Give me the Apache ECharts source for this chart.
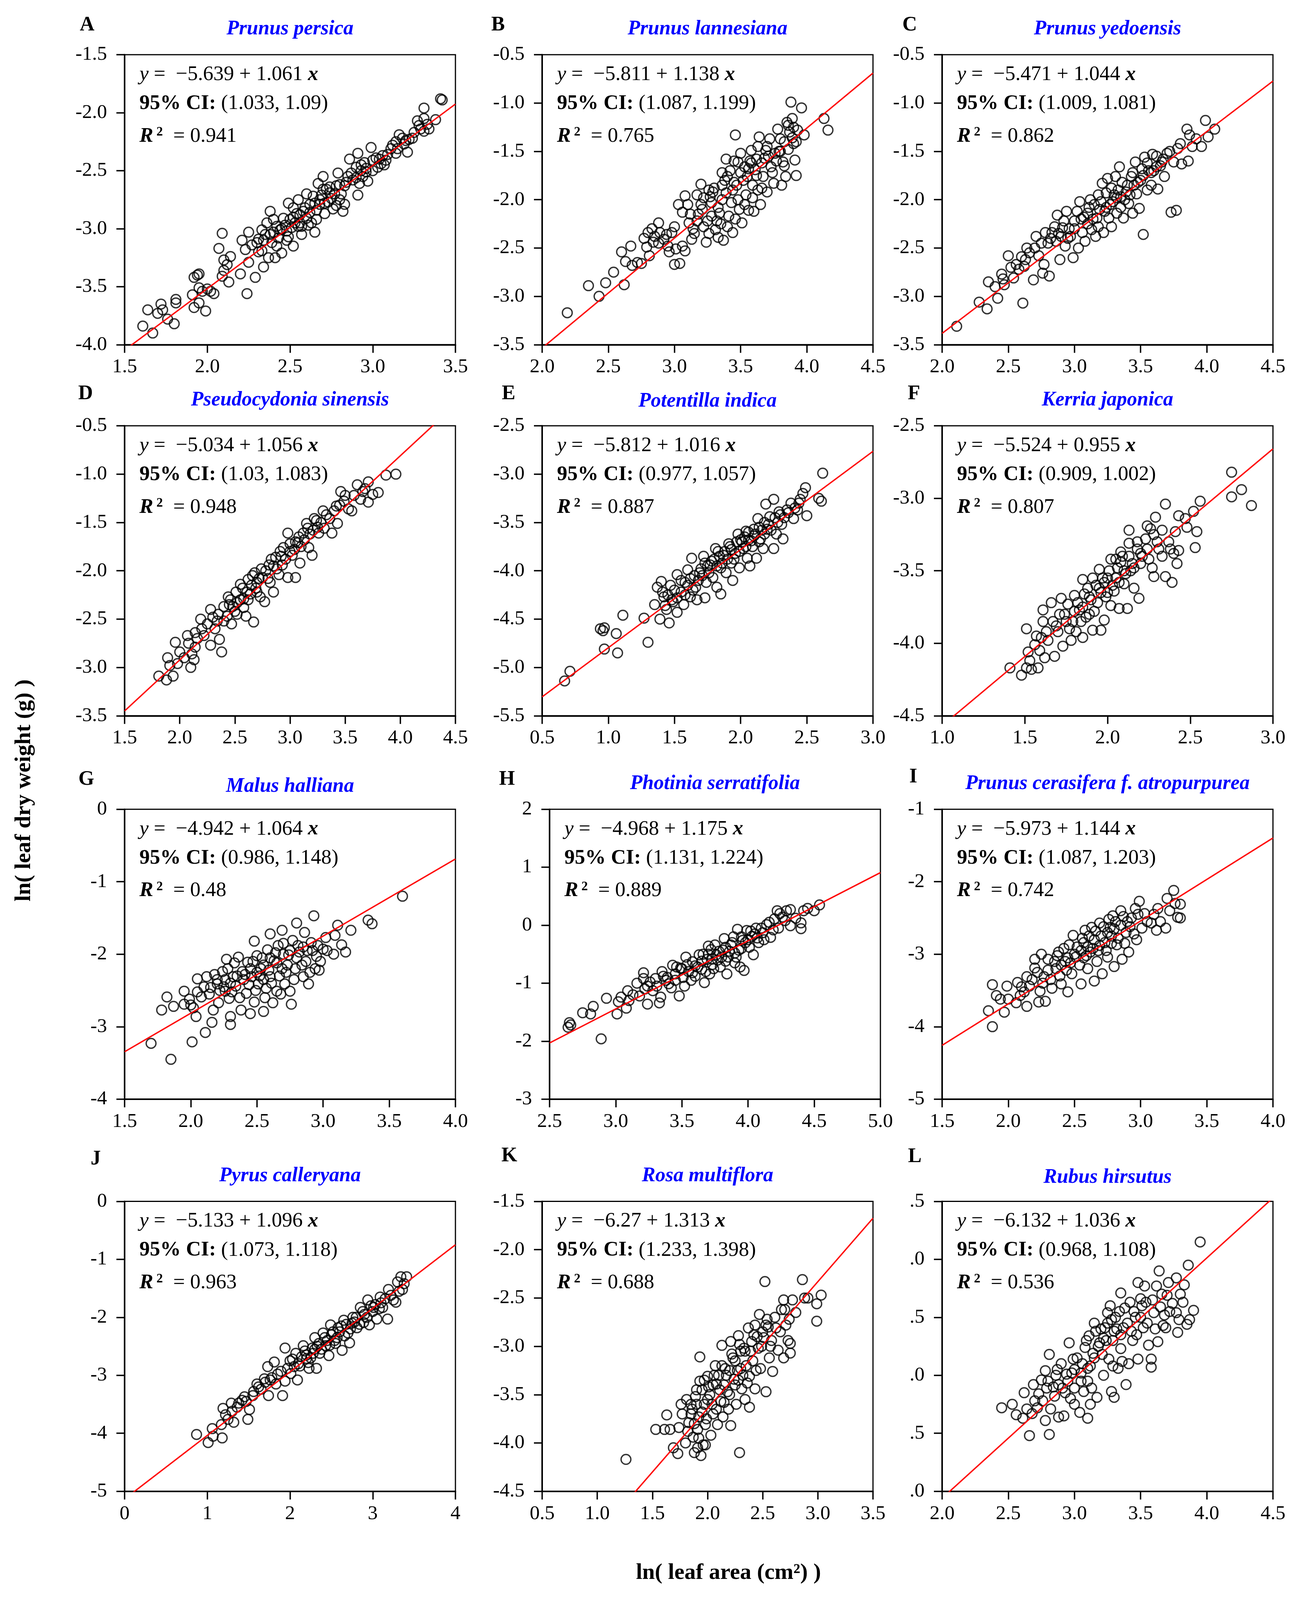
<!DOCTYPE html>
<html>
<head>
<meta charset="utf-8">
<script src="https://cdn.jsdelivr.net/npm/echarts@6/dist/echarts.min.js"></script>
<style>
html, body { margin: 0; padding: 0; background: #fff; overflow: hidden; }
#chart { width: 3318px; height: 4415px; }
</style>
</head>
<body>
<div id="chart"></div>
<script>
// panels A..L, row by row
var panelLetters = ['A', 'B', 'C', 'D', 'E', 'F', 'G', 'H', 'I', 'J', 'K', 'L'];
var speciesNames = ['Prunus persica', 'Prunus lannesiana', 'Prunus yedoensis', 'Pseudocydonia sinensis',
  'Potentilla indica', 'Kerria japonica', 'Malus halliana', 'Photinia serratifolia',
  'Prunus cerasifera f. atropurpurea', 'Pyrus calleryana', 'Rosa multiflora', 'Rubus hirsutus'];

// fitted lines and stats
var intercepts = [-5.639, -5.811, -5.471, -5.034, -5.812, -5.524, -4.942, -4.968, -5.973, -5.133, -6.27, -6.132];
var slopes = [1.061, 1.138, 1.044, 1.056, 1.016, 0.955, 1.064, 1.175, 1.144, 1.096, 1.313, 1.036];
var ciLow = [1.033, 1.087, 1.009, 1.03, 0.977, 0.909, 0.986, 1.131, 1.087, 1.073, 1.233, 0.968];
var ciHigh = [1.09, 1.199, 1.081, 1.083, 1.057, 1.002, 1.148, 1.224, 1.203, 1.118, 1.398, 1.108];
var r2Values = [0.941, 0.765, 0.862, 0.948, 0.887, 0.807, 0.48, 0.889, 0.742, 0.963, 0.688, 0.536];

// axis ticks
var xMin = [1.5, 2.0, 2.0, 1.5, 0.5, 1.0, 1.5, 2.5, 1.5, 0, 0.5, 2.0];
var xMax = [3.5, 4.5, 4.5, 4.5, 3.0, 3.0, 4.0, 5.0, 4.0, 4, 3.5, 4.5];
var xStep = [0.5, 0.5, 0.5, 0.5, 0.5, 0.5, 0.5, 0.5, 0.5, 1, 0.5, 0.5];
var yMin = [-4.0, -3.5, -3.5, -3.5, -5.5, -4.5, -4, -3, -5, -5, -4.5, -4.0];
var yMax = [-1.5, -0.5, -0.5, -0.5, -2.5, -2.5, 0, 2, -1, 0, -1.5, -1.5];
var yStep = [0.5, 0.5, 0.5, 0.5, 0.5, 0.5, 1, 1, 1, 1, 0.5, 0.5];
var xDecimals = [1, 1, 1, 1, 1, 1, 1, 1, 1, 0, 1, 1];
var yDecimals = [1, 1, 1, 1, 1, 1, 0, 0, 0, 0, 1, 1];
var yTruncated = [false, false, false, false, false, false, false, false, false, false, false, true];

// ln(leaf area), ln(leaf dry weight)
var ptsA = [[1.61,-3.84],[1.67,-3.90],[1.64,-3.70],[1.72,-3.65],[1.70,-3.73],[1.73,-3.70],[1.76,-3.78],[1.80,-3.82],[1.81,-3.61],[1.81,-3.64],
  [1.94,-3.40],[1.95,-3.39],[1.92,-3.42],[1.91,-3.57],[1.92,-3.68],[1.95,-3.51],[1.97,-3.54],[1.99,-3.71],[1.95,-3.64],[2.02,-3.54],[2.04,-3.56],[2.00,-3.52],
  [2.09,-3.04],[2.07,-3.17],[2.10,-3.27],[2.14,-3.24],[2.09,-3.41],[2.13,-3.46],[2.12,-3.31],[2.10,-3.36],[2.20,-3.39],[2.24,-3.56],[2.21,-3.10],[2.25,-3.03],
  [2.23,-3.18],[2.29,-3.42],[2.25,-3.29],[2.31,-3.09],[2.33,-3.19],[2.34,-3.33],[2.37,-3.25],[2.33,-3.01],[2.36,-2.95],[2.38,-2.85],[2.40,-3.03],[2.42,-3.15],
  [2.41,-3.25],[2.45,-3.21],[2.46,-2.91],[2.49,-2.78],[2.44,-3.01],[2.49,-3.07],[2.52,-3.15],[2.51,-2.99],[2.54,-2.87],[2.55,-2.75],[2.56,-2.95],[2.57,-3.05],
  [2.60,-2.91],[2.62,-2.79],[2.65,-3.03],[2.63,-2.95],[2.64,-2.72],[2.67,-2.61],[2.70,-2.55],[2.68,-2.79],[2.71,-2.87],[2.73,-2.77],[2.74,-2.69],[2.76,-2.83],
  [2.79,-2.52],[2.80,-2.75],[2.82,-2.85],[2.83,-2.79],[2.83,-2.63],[2.85,-2.55],[2.86,-2.40],[2.91,-2.35],[2.99,-2.30],[2.90,-2.47],[2.92,-2.61],[2.91,-2.71],
  [2.94,-2.55],[2.95,-2.43],[2.97,-2.59],[3.00,-2.41],[3.03,-2.47],[3.06,-2.37],[3.09,-2.36],[3.07,-2.45],[3.14,-2.35],[3.16,-2.19],[3.14,-2.25],[3.19,-2.27],
  [3.21,-2.34],[3.22,-2.23],[3.25,-2.17],[3.27,-2.07],[3.28,-2.11],[3.31,-1.96],[3.31,-2.05],[3.34,-2.14],[3.31,-2.16],[3.38,-2.06],[3.41,-1.88],[3.42,-1.89],
  [2.35,-3.05],[2.43,-3.08],[2.47,-2.97],[2.52,-2.90],[2.58,-2.85],[2.61,-2.97],[2.66,-2.84],[2.69,-2.71],[2.72,-2.66],[2.75,-2.74],[2.78,-2.63],[2.81,-2.70],
  [2.88,-2.58],[2.93,-2.50],[2.96,-2.51],[3.02,-2.39],[3.05,-2.44],[3.11,-2.31],[3.18,-2.22],[2.27,-3.14],[2.31,-3.20],[2.39,-3.12],[2.48,-3.02],[2.55,-2.98],
  [2.30,-3.12],[2.34,-3.10],[2.38,-3.05],[2.42,-2.98],[2.45,-3.00],[2.50,-2.92],[2.53,-2.95],[2.56,-2.88],[2.59,-2.82],[2.62,-2.86],[2.65,-2.78],[2.68,-2.75],
  [2.71,-2.78],[2.74,-2.64],[2.77,-2.70],[2.80,-2.62],[2.84,-2.60],[2.87,-2.52],[2.90,-2.56],[2.93,-2.45],[2.96,-2.48],[3.00,-2.50],[3.04,-2.40],[3.08,-2.41],
  [3.12,-2.28],[3.15,-2.31],[3.20,-2.24],[3.24,-2.22],[3.29,-2.14],[3.33,-2.10],[2.60,-2.70],[2.70,-2.66],[2.78,-2.80],[2.66,-2.92],[2.57,-2.98],[2.48,-3.10],
  [2.40,-2.92],[2.52,-2.82]];

var ptsB = [[2.19,-3.17],[2.35,-2.89],[2.43,-3.00],[2.48,-2.86],[2.54,-2.75],[2.62,-2.88],[2.60,-2.54],[2.67,-2.48],[2.63,-2.64],[2.68,-2.68],[2.72,-2.65],
  [2.75,-2.66],[2.79,-2.49],[2.81,-2.58],[2.80,-2.34],[2.83,-2.30],[2.85,-2.38],[2.88,-2.24],[2.89,-2.34],[2.84,-2.44],[2.92,-2.41],[2.95,-2.48],[2.98,-2.34],
  [2.96,-2.54],[3.00,-2.67],[3.04,-2.66],[3.01,-2.51],[3.06,-2.48],[3.08,-2.53],[3.03,-2.05],[3.08,-1.96],[3.06,-2.13],[3.11,-2.24],[3.13,-2.41],[3.15,-2.35],
  [3.17,-1.95],[3.20,-1.84],[3.21,-2.10],[3.24,-2.44],[3.25,-2.22],[3.28,-2.03],[3.30,-1.88],[3.31,-2.31],[3.34,-2.14],[3.36,-2.00],[3.37,-2.42],[3.39,-1.58],
  [3.40,-1.76],[3.41,-2.17],[3.43,-2.03],[3.44,-2.34],[3.46,-1.33],[3.47,-1.85],[3.48,-1.61],[3.49,-2.10],[3.50,-1.52],[3.51,-2.24],[3.54,-1.95],[3.55,-1.76],
  [3.56,-2.11],[3.58,-1.49],[3.59,-1.85],[3.60,-2.12],[3.61,-1.69],[3.63,-1.45],[3.64,-1.35],[3.65,-2.05],[3.67,-1.76],[3.68,-1.57],[3.70,-1.92],[3.72,-1.37],
  [3.73,-1.66],[3.75,-1.83],[3.78,-1.27],[3.79,-1.50],[3.81,-1.85],[3.82,-1.61],[3.84,-1.76],[3.86,-1.23],[3.88,-0.99],[3.89,-1.16],[3.90,-1.42],[3.91,-1.59],
  [3.92,-1.75],[3.93,-1.28],[3.96,-1.05],[3.98,-1.33],[4.13,-1.16],[4.16,-1.28],[3.28,-2.17],[3.38,-1.80],[3.53,-1.66],[3.80,-1.37],[3.69,-1.49],[3.17,-2.22],
  [3.33,-2.39],[3.63,-1.90],[3.20,-2.05],[3.27,-1.97],[3.33,-2.08],[3.39,-1.93],[3.45,-1.82],[3.52,-1.80],[3.57,-1.60],[3.62,-1.75],[3.66,-1.62],[3.71,-1.55],
  [3.76,-1.52],[3.83,-1.40],[3.87,-1.30],[3.35,-2.25],[3.42,-1.70],[3.48,-2.00],[3.12,-2.15],[3.22,-2.28],
  [3.10,-2.05],[3.14,-2.30],[3.18,-2.15],[3.22,-1.98],[3.26,-2.35],[3.29,-1.92],[3.32,-2.22],[3.36,-1.85],[3.40,-2.28],[3.44,-1.90],[3.46,-2.20],[3.50,-1.72],
  [3.53,-2.05],[3.56,-1.68],[3.59,-1.98],[3.62,-1.58],[3.66,-1.88],[3.70,-1.45],[3.74,-1.72],[3.77,-1.60],[3.80,-1.50],[3.83,-1.65],[3.86,-1.48],[3.89,-1.36],
  [3.92,-1.40],[3.85,-1.20],[3.90,-1.25],[3.58,-1.62],[3.45,-1.60],[3.36,-1.72],[3.26,-1.90],[3.00,-2.28],[2.94,-2.36],[2.88,-2.45],[2.77,-2.40]];

var ptsC = [[2.11,-3.31],[2.28,-3.06],[2.34,-3.13],[2.42,-3.02],[2.35,-2.85],[2.45,-2.77],[2.47,-2.88],[2.46,-2.82],[2.50,-2.58],[2.54,-2.81],[2.56,-2.67],
  [2.60,-2.59],[2.61,-3.07],[2.62,-2.69],[2.64,-2.50],[2.66,-2.55],[2.69,-2.83],[2.71,-2.38],[2.73,-2.58],[2.76,-2.76],[2.77,-2.67],[2.78,-2.34],[2.81,-2.79],
  [2.80,-2.45],[2.83,-2.34],[2.86,-2.43],[2.87,-2.16],[2.89,-2.62],[2.91,-2.29],[2.93,-2.48],[2.94,-2.12],[2.97,-2.38],[2.99,-2.60],[3.00,-2.22],[3.03,-2.50],
  [3.04,-2.02],[3.06,-2.34],[3.08,-2.43],[3.10,-2.14],[3.12,-2.00],[3.13,-2.31],[3.16,-2.38],[3.17,-2.19],[3.19,-2.10],[3.21,-1.83],[3.22,-2.34],[3.24,-1.93],
  [3.25,-1.78],[3.26,-2.19],[3.28,-2.28],[3.29,-2.02],[3.31,-1.76],[3.32,-2.14],[3.34,-1.66],[3.35,-1.97],[3.37,-2.19],[3.40,-1.85],[3.41,-2.04],[3.43,-1.76],
  [3.44,-2.14],[3.46,-1.61],[3.47,-1.94],[3.49,-2.09],[3.50,-1.80],[3.52,-2.36],[3.53,-1.56],[3.56,-1.70],[3.58,-1.85],[3.59,-1.53],[3.62,-1.66],[3.63,-1.89],
  [3.66,-1.61],[3.68,-1.76],[3.70,-1.52],[3.73,-2.13],[3.77,-2.11],[3.75,-1.61],[3.78,-1.47],[3.81,-1.63],[3.85,-1.27],[3.86,-1.60],[3.87,-1.33],[3.89,-1.45],
  [3.92,-1.37],[3.96,-1.45],[3.99,-1.18],[4.01,-1.35],[4.06,-1.27],[3.05,-2.20],[3.15,-2.05],[3.23,-2.12],[3.30,-1.95],[3.38,-2.00],[3.45,-1.85],[3.52,-1.75],
  [3.55,-1.90],[3.60,-1.70],[2.95,-2.40],[2.88,-2.35],[3.00,-2.30],[3.10,-2.25],[3.18,-1.95],[3.27,-2.05],[3.33,-1.90],[3.42,-1.95],[3.65,-1.65],
  [2.70,-2.50],[2.75,-2.45],[2.82,-2.40],[2.85,-2.28],[2.90,-2.38],[2.92,-2.22],[2.96,-2.30],[3.02,-2.12],[3.07,-2.18],[3.11,-2.08],[3.14,-2.20],[3.20,-2.02],
  [3.24,-2.08],[3.28,-1.88],[3.32,-1.98],[3.36,-1.82],[3.39,-1.92],[3.44,-1.72],[3.48,-1.82],[3.51,-1.68],[3.55,-1.62],[3.58,-1.72],[3.62,-1.55],[3.67,-1.58],
  [3.72,-1.50],[3.80,-1.42],[2.58,-2.72],[2.63,-2.62],[2.52,-2.70],[2.40,-2.90],[3.18,-2.28],[3.35,-2.08]];

var ptsD = [[1.81,-3.09],[1.88,-3.13],[1.94,-3.09],[1.89,-2.90],[1.91,-2.98],[1.98,-2.96],[1.96,-2.74],[2.00,-2.84],[2.04,-2.90],[2.07,-2.67],[2.10,-3.00],
  [2.11,-2.86],[2.14,-2.79],[2.14,-2.64],[2.13,-2.92],[2.19,-2.50],[2.22,-2.67],[2.28,-2.40],[2.28,-2.77],[2.32,-2.60],[2.34,-2.52],[2.36,-2.71],[2.38,-2.84],
  [2.40,-2.37],[2.43,-2.47],[2.44,-2.27],[2.47,-2.55],[2.48,-2.37],[2.51,-2.22],[2.52,-2.45],[2.55,-2.14],[2.58,-2.29],[2.60,-2.47],[2.62,-2.09],[2.64,-2.24],
  [2.67,-2.53],[2.68,-2.02],[2.70,-2.12],[2.73,-2.27],[2.75,-2.07],[2.77,-2.32],[2.81,-1.94],[2.82,-2.12],[2.85,-2.22],[2.87,-1.86],[2.90,-2.04],[2.93,-1.94],
  [2.94,-1.76],[2.98,-1.61],[2.98,-2.07],[3.02,-1.84],[3.05,-2.07],[3.07,-1.71],[3.09,-1.92],[3.12,-1.61],[3.15,-1.51],[3.17,-1.76],[3.20,-1.84],[3.22,-1.46],
  [3.26,-1.61],[3.30,-1.38],[3.31,-1.56],[3.36,-1.46],[3.38,-1.61],[3.42,-1.33],[3.43,-1.51],[3.46,-1.18],[3.49,-1.28],[3.53,-1.36],[3.56,-1.38],[3.61,-1.11],
  [3.64,-1.26],[3.68,-1.15],[3.71,-1.08],[3.71,-1.29],[3.75,-1.21],[3.80,-1.19],[3.87,-1.01],[3.96,-1.00],[2.45,-2.35],[2.55,-2.30],[2.65,-2.15],[2.72,-2.08],
  [2.78,-2.00],[2.85,-1.95],[2.92,-1.85],[3.00,-1.80],[3.05,-1.70],[3.10,-1.75],[3.18,-1.62],[3.25,-1.55],[2.58,-2.38],[2.50,-2.42],[2.62,-2.30],[2.70,-2.22],
  [2.20,-2.60],[2.25,-2.55],[2.30,-2.48],[2.35,-2.45],[2.40,-2.52],[2.46,-2.30],[2.52,-2.33],[2.57,-2.18],[2.61,-2.22],[2.66,-2.05],[2.69,-2.18],[2.74,-1.98],
  [2.80,-2.08],[2.83,-1.88],[2.88,-1.98],[2.91,-1.80],[2.96,-1.88],[3.00,-1.72],[3.04,-1.78],[3.08,-1.65],[3.13,-1.68],[3.16,-1.56],[3.21,-1.58],[3.24,-1.48],
  [3.28,-1.50],[3.33,-1.42],[3.40,-1.38],[3.45,-1.32],[3.50,-1.22],[3.58,-1.22],[3.66,-1.18],[2.08,-2.75],[2.16,-2.70]];

var ptsE = [[0.67,-5.14],[0.71,-5.04],[0.94,-4.60],[0.97,-4.59],[0.96,-4.62],[0.97,-4.81],[1.06,-4.65],[1.07,-4.85],[1.11,-4.46],[1.27,-4.49],[1.30,-4.74],
  [1.35,-4.35],[1.37,-4.17],[1.40,-4.11],[1.39,-4.50],[1.42,-4.27],[1.44,-4.40],[1.46,-4.54],[1.47,-4.15],[1.49,-4.32],[1.52,-4.04],[1.52,-4.43],[1.55,-4.22],
  [1.57,-4.35],[1.58,-4.12],[1.60,-3.99],[1.63,-3.87],[1.62,-4.27],[1.66,-4.17],[1.67,-4.30],[1.69,-4.02],[1.72,-3.85],[1.73,-4.28],[1.74,-4.12],[1.77,-3.94],
  [1.79,-4.07],[1.81,-3.77],[1.82,-4.17],[1.85,-4.24],[1.85,-3.97],[1.87,-3.84],[1.89,-4.02],[1.91,-3.72],[1.93,-3.92],[1.94,-4.10],[1.96,-3.82],[1.98,-3.62],
  [1.99,-3.97],[2.02,-3.77],[2.04,-3.59],[2.05,-3.87],[2.07,-3.95],[2.08,-3.69],[2.10,-3.57],[2.12,-3.87],[2.13,-3.46],[2.15,-3.67],[2.17,-3.77],[2.19,-3.31],
  [2.20,-3.57],[2.22,-3.44],[2.25,-3.26],[2.25,-3.77],[2.27,-3.62],[2.29,-3.39],[2.31,-3.52],[2.32,-3.67],[2.35,-3.37],[2.38,-3.30],[2.40,-3.46],[2.43,-3.37],
  [2.45,-3.26],[2.47,-3.20],[2.49,-3.14],[2.50,-3.43],[2.59,-3.25],[2.61,-3.28],[2.62,-2.99],[1.60,-4.15],[1.65,-4.05],[1.70,-3.98],[1.75,-3.95],[1.80,-3.88],
  [1.84,-3.85],[1.88,-3.80],[1.92,-3.75],[1.97,-3.70],[2.00,-3.68],[2.03,-3.65],[2.06,-3.60],[2.10,-3.64],[2.14,-3.55],[2.18,-3.50],[1.55,-4.10],[1.50,-4.20],
  [1.45,-4.25],
  [1.58,-4.25],[1.62,-4.08],[1.64,-4.20],[1.68,-4.10],[1.71,-4.05],[1.73,-3.92],[1.76,-4.02],[1.78,-3.90],[1.82,-3.95],[1.83,-3.80],[1.86,-3.92],[1.90,-3.88],
  [1.93,-3.78],[1.95,-3.88],[1.99,-3.80],[2.01,-3.70],[2.04,-3.75],[2.06,-3.68],[2.09,-3.75],[2.11,-3.62],[2.14,-3.70],[2.16,-3.58],[2.18,-3.62],[2.21,-3.52],
  [2.23,-3.58],[2.26,-3.45],[2.28,-3.50],[2.30,-3.42],[2.33,-3.45],[2.36,-3.40],[2.41,-3.35],[2.44,-3.30],[1.52,-4.28],[1.48,-4.30],[1.41,-4.22],[1.43,-4.36]];

var ptsF = [[1.41,-4.17],[1.48,-4.22],[1.51,-4.17],[1.52,-4.06],[1.51,-3.90],[1.53,-4.12],[1.56,-4.01],[1.58,-4.17],[1.60,-3.96],[1.61,-3.85],[1.62,-4.10],
  [1.61,-3.77],[1.64,-3.98],[1.66,-3.72],[1.68,-4.09],[1.69,-3.88],[1.72,-3.69],[1.73,-4.02],[1.74,-3.80],[1.76,-3.73],[1.78,-3.98],[1.79,-3.85],[1.80,-3.67],
  [1.81,-3.92],[1.83,-3.77],[1.85,-3.96],[1.85,-3.56],[1.87,-3.82],[1.89,-3.68],[1.91,-3.55],[1.91,-3.91],[1.92,-3.78],[1.95,-3.49],[1.96,-3.91],[1.96,-3.65],
  [1.98,-3.84],[2.00,-3.55],[2.02,-3.42],[2.02,-3.74],[2.04,-3.64],[2.06,-3.48],[2.07,-3.76],[2.08,-3.37],[2.10,-3.59],[2.12,-3.76],[2.13,-3.22],[2.13,-3.31],
  [2.14,-3.50],[2.16,-3.62],[2.18,-3.35],[2.19,-3.69],[2.20,-3.45],[2.24,-3.19],[2.24,-3.35],[2.26,-3.21],[2.27,-3.48],[2.28,-3.54],[2.29,-3.13],[2.30,-3.30],
  [2.33,-3.40],[2.35,-3.54],[2.35,-3.04],[2.38,-3.35],[2.39,-3.58],[2.41,-3.23],[2.42,-3.45],[2.43,-3.12],[2.43,-3.36],[2.47,-3.14],[2.48,-3.20],[2.52,-3.09],
  [2.53,-3.34],[2.54,-3.23],[2.56,-3.02],[2.75,-2.82],[2.75,-2.99],[2.81,-2.94],[2.87,-3.05],[1.75,-3.85],[1.80,-3.78],[1.85,-3.75],[1.90,-3.70],[1.95,-3.62],
  [2.00,-3.65],[2.05,-3.55],[2.10,-3.50],[2.15,-3.45],[2.20,-3.38],[1.70,-3.92],[1.88,-3.62],[1.98,-3.58],[2.08,-3.44],
  [1.63,-3.92],[1.67,-3.85],[1.71,-3.80],[1.77,-3.90],[1.82,-3.72],[1.84,-3.85],[1.86,-3.66],[1.89,-3.80],[1.93,-3.60],[1.94,-3.72],[1.97,-3.55],[1.99,-3.68],
  [2.01,-3.50],[2.03,-3.60],[2.05,-3.42],[2.07,-3.58],[2.09,-3.40],[2.11,-3.52],[2.13,-3.40],[2.16,-3.48],[2.18,-3.30],[2.21,-3.40],[2.23,-3.28],[2.25,-3.42],
  [2.28,-3.25],[2.31,-3.35],[2.33,-3.22],[2.37,-3.30],[2.40,-3.38],[1.57,-3.95],[1.59,-4.05],[1.54,-4.18]];

var ptsG = [[1.70,-3.23],[1.85,-3.45],[2.01,-3.21],[1.78,-2.77],[1.87,-2.72],[1.82,-2.59],[1.95,-2.51],[1.95,-2.69],[1.99,-2.62],[2.02,-2.74],[2.04,-2.86],
  [2.05,-2.34],[2.08,-2.59],[2.11,-3.08],[2.12,-2.31],[2.15,-2.46],[2.16,-2.94],[2.17,-2.77],[2.20,-2.41],[2.21,-2.67],[2.24,-2.24],[2.26,-2.51],[2.27,-2.07],
  [2.29,-2.61],[2.30,-2.97],[2.30,-2.86],[2.32,-2.31],[2.34,-2.44],[2.36,-2.04],[2.38,-2.77],[2.39,-2.24],[2.42,-2.54],[2.43,-2.11],[2.45,-2.82],[2.46,-2.31],
  [2.48,-2.66],[2.48,-1.82],[2.50,-2.02],[2.51,-2.41],[2.53,-2.20],[2.55,-2.79],[2.57,-2.47],[2.58,-1.94],[2.60,-1.72],[2.60,-2.31],[2.62,-2.67],[2.63,-2.09],
  [2.65,-2.51],[2.66,-1.88],[2.69,-1.67],[2.69,-2.20],[2.71,-2.41],[2.74,-2.01],[2.75,-2.51],[2.76,-2.69],[2.77,-1.81],[2.79,-2.20],[2.80,-1.57],[2.82,-1.97],
  [2.85,-2.31],[2.86,-1.70],[2.87,-2.10],[2.89,-2.41],[2.91,-1.84],[2.93,-1.47],[2.94,-2.20],[2.95,-2.03],[2.97,-2.22],[3.00,-1.93],[3.02,-1.77],[3.08,-2.00],
  [3.09,-1.74],[3.11,-1.60],[3.14,-1.87],[3.17,-1.97],[3.21,-1.67],[3.34,-1.53],[3.37,-1.58],[3.60,-1.20],[2.30,-2.40],[2.35,-2.30],[2.40,-2.35],[2.45,-2.20],
  [2.50,-2.25],[2.55,-2.15],[2.60,-2.05],[2.65,-2.12],[2.70,-2.00],[2.75,-1.95],[2.80,-2.05],[2.85,-1.90],[2.20,-2.35],[2.25,-2.45],[2.55,-2.35],[2.72,-2.25],
  [2.10,-2.45],[2.14,-2.55],[2.18,-2.28],[2.22,-2.50],[2.26,-2.35],[2.28,-2.20],[2.31,-2.52],[2.33,-2.12],[2.37,-2.60],[2.41,-2.28],[2.44,-2.42],[2.47,-2.10],
  [2.49,-2.50],[2.52,-2.30],[2.54,-2.05],[2.56,-2.60],[2.59,-2.22],[2.61,-2.40],[2.64,-1.98],[2.67,-2.30],[2.68,-2.55],[2.70,-1.85],[2.73,-2.15],[2.78,-2.35],
  [2.81,-1.88],[2.84,-2.15],[2.88,-1.95],[2.90,-2.25],[2.92,-1.95],[2.96,-1.88],[2.98,-2.10],[3.03,-1.95],[2.05,-2.52],[2.00,-2.70]];

var ptsH = [[2.64,-1.76],[2.65,-1.68],[2.66,-1.72],[2.75,-1.51],[2.81,-1.53],[2.83,-1.40],[2.89,-1.96],[2.93,-1.26],[3.01,-1.53],[3.02,-1.32],[3.04,-1.24],
  [3.08,-1.43],[3.09,-1.13],[3.13,-1.20],[3.18,-1.22],[3.21,-0.82],[3.21,-0.92],[3.24,-1.36],[3.24,-1.05],[3.28,-1.13],[3.30,-0.92],[3.33,-1.34],[3.34,-1.24],
  [3.36,-0.88],[3.40,-1.01],[3.43,-0.69],[3.45,-0.84],[3.48,-1.22],[3.49,-0.74],[3.52,-1.05],[3.53,-0.55],[3.55,-0.80],[3.58,-0.63],[3.60,-0.88],[3.63,-0.51],
  [3.65,-0.76],[3.67,-0.99],[3.69,-0.59],[3.70,-0.36],[3.71,-0.84],[3.73,-0.68],[3.75,-0.34],[3.76,-0.51],[3.79,-0.72],[3.81,-0.43],[3.82,-0.23],[3.84,-0.84],
  [3.85,-0.55],[3.87,-0.34],[3.90,-0.65],[3.92,-0.07],[3.93,-0.43],[3.94,-0.72],[3.96,-0.26],[3.97,-0.78],[3.99,-0.09],[4.01,-0.38],[4.03,-0.19],[4.04,-0.51],
  [4.06,-0.05],[4.08,-0.30],[4.11,-0.13],[4.14,0.01],[4.17,-0.21],[4.20,0.11],[4.23,-0.05],[4.22,0.25],[4.26,0.14],[4.29,0.25],[4.32,0.27],[4.32,-0.01],
  [4.36,0.12],[4.40,0.04],[4.40,-0.06],[4.42,0.25],[4.45,0.29],[4.50,0.25],[4.54,0.35],[3.50,-0.75],[3.60,-0.70],[3.65,-0.62],[3.70,-0.50],[3.78,-0.45],
  [3.83,-0.38],[3.88,-0.30],[3.95,-0.20],[4.00,-0.25],[4.05,-0.15],[4.10,-0.05],[3.45,-0.95],[3.38,-0.95],[3.58,-0.82],[3.73,-0.58],[3.90,-0.48],
  [3.22,-1.10],[3.26,-0.98],[3.31,-1.05],[3.35,-0.80],[3.39,-0.90],[3.42,-1.08],[3.46,-0.72],[3.51,-0.90],[3.54,-0.68],[3.57,-0.95],[3.62,-0.72],[3.66,-0.50],
  [3.68,-0.80],[3.72,-0.42],[3.74,-0.75],[3.77,-0.60],[3.80,-0.55],[3.83,-0.62],[3.86,-0.45],[3.89,-0.20],[3.91,-0.55],[3.95,-0.40],[3.98,-0.30],[4.02,-0.10],
  [4.07,-0.22],[4.12,-0.25],[4.16,0.05],[4.19,-0.08],[4.24,0.20],[4.28,0.08],[3.10,-1.30],[3.16,-1.00]];

var ptsI = [[1.85,-3.78],[1.88,-4.00],[1.88,-3.42],[1.91,-3.57],[1.94,-3.62],[1.97,-3.80],[1.99,-3.44],[2.00,-3.62],[2.06,-3.67],[2.07,-3.39],[2.09,-3.57],
  [2.12,-3.52],[2.14,-3.72],[2.14,-3.31],[2.16,-3.44],[2.20,-3.07],[2.20,-3.19],[2.23,-3.66],[2.24,-3.51],[2.25,-3.00],[2.28,-3.65],[2.27,-3.31],[2.30,-3.07],
  [2.33,-3.47],[2.36,-3.20],[2.38,-2.97],[2.40,-3.41],[2.43,-3.10],[2.45,-3.52],[2.46,-2.87],[2.48,-3.27],[2.49,-2.74],[2.51,-3.04],[2.55,-3.41],[2.57,-2.84],
  [2.58,-2.67],[2.60,-3.20],[2.62,-2.97],[2.63,-2.63],[2.65,-3.37],[2.67,-3.10],[2.69,-2.57],[2.71,-3.27],[2.73,-2.84],[2.75,-3.04],[2.77,-2.63],[2.79,-2.47],
  [2.80,-3.17],[2.82,-2.87],[2.85,-2.40],[2.86,-3.07],[2.89,-2.70],[2.91,-2.97],[2.93,-2.50],[2.96,-2.37],[2.97,-2.80],[2.99,-2.27],[3.01,-2.64],[3.03,-2.44],
  [3.08,-2.57],[3.12,-2.67],[3.13,-2.37],[3.19,-2.64],[3.20,-2.23],[3.25,-2.12],[3.26,-2.30],[3.28,-2.49],[3.30,-2.50],[3.30,-2.31],[2.50,-3.00],[2.55,-2.95],
  [2.60,-2.90],[2.65,-2.80],[2.70,-2.75],[2.75,-2.70],[2.80,-2.65],[2.85,-2.60],[2.90,-2.55],[2.45,-3.05],[2.40,-3.15],[2.35,-3.10],[2.57,-3.05],[2.68,-2.95],
  [2.78,-2.85],
  [2.22,-3.25],[2.26,-3.40],[2.30,-3.22],[2.32,-3.35],[2.37,-3.02],[2.39,-3.30],[2.42,-2.92],[2.44,-3.22],[2.47,-3.12],[2.52,-2.90],[2.54,-3.15],[2.56,-2.78],
  [2.59,-3.02],[2.61,-2.75],[2.64,-2.92],[2.66,-2.68],[2.69,-2.88],[2.72,-2.62],[2.74,-2.95],[2.76,-2.52],[2.78,-2.75],[2.81,-2.55],[2.83,-2.78],[2.87,-2.48],
  [2.88,-2.85],[2.92,-2.62],[2.95,-2.72],[2.98,-2.45],[3.05,-2.55],[3.10,-2.45],[3.15,-2.55],[3.22,-2.40],[2.18,-3.35],[2.10,-3.45]];

var ptsJ = [[0.87,-4.02],[1.01,-4.16],[1.06,-3.92],[1.07,-4.05],[1.18,-4.08],[1.17,-3.85],[1.19,-3.57],[1.22,-3.68],[1.25,-3.76],[1.29,-3.48],[1.32,-3.81],
  [1.36,-3.55],[1.42,-3.43],[1.45,-3.37],[1.49,-3.76],[1.51,-3.59],[1.56,-3.28],[1.60,-3.15],[1.65,-3.24],[1.69,-3.06],[1.73,-2.85],[1.74,-3.35],[1.78,-3.04],
  [1.81,-2.77],[1.83,-3.15],[1.89,-2.93],[1.91,-3.35],[1.94,-2.53],[1.94,-3.10],[2.00,-2.75],[2.01,-2.97],[2.07,-2.62],[2.09,-3.08],[2.12,-2.84],[2.16,-2.49],
  [2.20,-2.71],[2.23,-2.88],[2.27,-2.53],[2.30,-2.35],[2.32,-2.88],[2.36,-2.62],[2.40,-2.27],[2.43,-2.49],[2.47,-2.66],[2.49,-2.13],[2.54,-2.40],[2.58,-2.18],
  [2.63,-2.57],[2.65,-2.05],[2.70,-2.27],[2.72,-2.44],[2.76,-2.00],[2.81,-2.18],[2.85,-1.83],[2.89,-2.09],[2.94,-1.70],[2.96,-2.13],[3.01,-1.83],[3.05,-2.03],
  [3.09,-1.65],[3.12,-1.83],[3.18,-2.03],[3.19,-1.52],[3.25,-1.70],[3.28,-1.74],[3.30,-1.39],[3.34,-1.30],[3.36,-1.52],[3.41,-1.30],[2.10,-2.80],[2.20,-2.65],
  [2.30,-2.55],[2.35,-2.45],[2.45,-2.40],[2.50,-2.30],[2.60,-2.25],[2.68,-2.12],[2.75,-2.10],[2.80,-2.00],[2.90,-1.95],[3.00,-1.90],[3.10,-1.75],[2.05,-2.85],
  [2.25,-2.70],[2.55,-2.45],
  [1.30,-3.62],[1.38,-3.48],[1.47,-3.45],[1.55,-3.35],[1.62,-3.20],[1.70,-3.12],[1.76,-3.08],[1.85,-2.98],[1.97,-2.88],[2.03,-2.72],[2.14,-2.68],[2.18,-2.58],
  [2.22,-2.78],[2.28,-2.62],[2.33,-2.50],[2.38,-2.55],[2.42,-2.35],[2.48,-2.48],[2.52,-2.25],[2.57,-2.35],[2.62,-2.15],[2.66,-2.32],[2.73,-2.20],[2.78,-2.08],
  [2.84,-2.12],[2.88,-1.90],[2.93,-2.00],[2.98,-1.80],[3.03,-1.78],[3.08,-1.85],[3.15,-1.68],[3.22,-1.62],[3.32,-1.55],[3.38,-1.42]];

var ptsK = [[1.26,-4.17],[1.53,-3.86],[1.61,-3.86],[1.63,-3.71],[1.66,-3.86],[1.69,-4.05],[1.73,-4.11],[1.74,-3.84],[1.76,-3.60],[1.77,-3.70],[1.80,-4.00],
  [1.81,-3.55],[1.83,-3.79],[1.86,-3.65],[1.87,-3.94],[1.88,-4.10],[1.89,-3.52],[1.91,-3.86],[1.93,-3.11],[1.92,-3.73],[1.93,-3.36],[1.94,-4.13],[1.96,-4.02],
  [1.97,-3.60],[1.98,-3.81],[2.00,-3.31],[2.02,-3.50],[2.03,-3.92],[2.05,-3.70],[2.07,-3.20],[2.08,-3.39],[2.09,-3.81],[2.12,-3.57],[2.13,-2.99],[2.14,-3.73],
  [2.16,-3.23],[2.18,-3.47],[2.19,-3.65],[2.21,-2.95],[2.21,-3.82],[2.23,-3.12],[2.24,-3.34],[2.26,-3.60],[2.28,-2.89],[2.29,-4.10],[2.30,-3.23],[2.31,-3.44],
  [2.33,-3.02],[2.34,-3.55],[2.37,-2.81],[2.38,-3.63],[2.38,-3.31],[2.41,-3.15],[2.43,-2.78],[2.43,-3.44],[2.46,-3.02],[2.47,-2.67],[2.48,-3.23],[2.51,-2.91],
  [2.52,-2.33],[2.53,-3.47],[2.54,-2.72],[2.56,-3.12],[2.58,-2.94],[2.59,-3.26],[2.62,-2.81],[2.64,-3.04],[2.67,-2.62],[2.69,-3.12],[2.69,-2.52],[2.71,-2.78],
  [2.73,-2.94],[2.75,-2.97],[2.75,-3.07],[2.77,-2.52],[2.80,-2.65],[2.86,-2.31],[2.88,-2.50],[2.91,-2.50],[2.99,-2.74],[2.99,-2.56],[3.03,-2.47],[2.05,-3.40],
  [2.10,-3.30],[2.15,-3.40],[2.20,-3.25],[2.25,-3.15],[2.30,-3.05],[2.35,-3.20],[2.40,-2.95],[2.45,-2.90],[2.50,-2.85],[2.00,-3.55],[1.95,-3.45],[1.90,-3.60],
  [1.85,-3.70],[2.28,-3.35],[2.55,-2.80],
  [1.82,-3.88],[1.85,-3.60],[1.88,-3.80],[1.90,-3.45],[1.92,-3.95],[1.95,-3.68],[1.97,-3.35],[1.99,-3.75],[2.01,-3.42],[2.04,-3.60],[2.06,-3.30],[2.08,-3.65],
  [2.11,-3.45],[2.13,-3.20],[2.15,-3.58],[2.17,-3.30],[2.20,-3.50],[2.22,-3.08],[2.25,-3.40],[2.27,-3.25],[2.29,-2.98],[2.32,-3.30],[2.34,-3.05],[2.36,-3.38],
  [2.39,-3.05],[2.42,-2.88],[2.44,-3.25],[2.49,-3.00],[2.53,-2.78],[2.57,-3.00],[2.61,-2.70],[2.66,-2.85],[2.70,-2.62],[2.74,-2.72],[1.98,-4.02],[1.91,-4.05]];

var ptsL = [[2.45,-3.28],[2.53,-3.25],[2.56,-3.34],[2.61,-3.37],[2.62,-3.15],[2.64,-3.29],[2.66,-3.52],[2.68,-3.33],[2.69,-3.08],[2.70,-3.22],[2.73,-3.16],
  [2.75,-3.04],[2.78,-3.39],[2.78,-2.96],[2.79,-3.11],[2.81,-3.51],[2.81,-2.82],[2.82,-3.29],[2.85,-3.18],[2.86,-3.00],[2.88,-3.36],[2.90,-2.90],[2.91,-3.11],
  [2.92,-3.35],[2.94,-2.99],[2.96,-2.72],[2.97,-3.20],[2.99,-2.86],[3.00,-3.11],[3.04,-3.32],[3.05,-2.98],[3.07,-3.14],[3.08,-2.76],[3.10,-3.37],[3.10,-2.94],
  [3.11,-2.66],[3.13,-3.11],[3.14,-2.81],[3.15,-2.55],[3.17,-3.19],[3.19,-2.72],[3.22,-3.00],[3.23,-2.59],[3.25,-2.46],[3.26,-2.86],[3.28,-3.14],[3.29,-2.70],
  [3.30,-3.19],[3.31,-2.50],[3.33,-2.94],[3.35,-2.29],[3.35,-2.77],[3.37,-2.59],[3.39,-3.08],[3.41,-2.90],[3.42,-2.37],[3.44,-2.70],[3.46,-2.50],[3.48,-2.20],
  [3.48,-2.86],[3.50,-2.34],[3.52,-2.59],[3.53,-2.23],[3.54,-2.37],[3.56,-2.74],[3.58,-2.86],[3.58,-2.93],[3.60,-2.46],[3.62,-2.23],[3.63,-2.71],[3.64,-2.10],
  [3.65,-2.41],[3.67,-2.57],[3.69,-2.59],[3.70,-2.31],[3.72,-2.45],[3.77,-2.16],[3.77,-2.46],[3.78,-2.63],[3.80,-2.30],[3.82,-2.37],[3.85,-2.56],[3.86,-2.05],
  [3.87,-2.52],[3.90,-2.44],[3.95,-1.85],[3.20,-2.60],[3.25,-2.55],[3.30,-2.62],[3.22,-2.68],[3.28,-2.52],[3.18,-2.75],[3.15,-2.85],[3.35,-2.65],[3.40,-2.55],
  [3.45,-2.45],[3.50,-2.50],[3.00,-2.95],[2.95,-3.05],[3.05,-3.05],[3.10,-3.05],[2.88,-3.08],
  [2.72,-3.28],[2.76,-3.22],[2.80,-3.05],[2.84,-3.10],[2.87,-2.95],[2.93,-3.15],[2.98,-2.98],[3.02,-2.85],[3.06,-2.90],[3.09,-2.70],[3.12,-2.92],[3.16,-2.62],
  [3.21,-2.82],[3.24,-2.70],[3.27,-2.40],[3.29,-2.92],[3.32,-2.60],[3.34,-2.45],[3.36,-2.88],[3.38,-2.42],[3.43,-2.62],[3.47,-2.65],[3.51,-2.40],[3.55,-2.55],
  [3.59,-2.35],[3.61,-2.60],[3.66,-2.30],[3.68,-2.48],[3.71,-2.20],[3.74,-2.38],[3.79,-2.52],[3.83,-2.22],[3.00,-3.25],[3.12,-3.25]];

var panelPoints = [ptsA, ptsB, ptsC, ptsD, ptsE, ptsF, ptsG, ptsH, ptsI, ptsJ, ptsK, ptsL];

// layout in reference px (3318 x 4415), scaled to the actual viewport below
var colLeft = [319, 1388, 2412];
var rowTop = [151, 1175, 2233, 3315];
var plotW = 847, plotH = 800;
var shiftX = [0, 0, 0, 0, 0, 0, 0, 19, 0, 0, 0, 0];
var letterPos = [[-96, -81], [-113, -81], [-83, -81], [-100, -88], [-86, -88], [-72, -88],
  [-98, -82], [-109, -82], [-74, -88], [-74, -116], [-84, -125], [-70, -123]];
var titleDy = [-71, -71, -71, -71, -67, -71, -63, -70, -70, -70, -70, -66];

var vw = window.innerWidth || 3318;
var vh = window.innerHeight || 4415;
var sx = vw / 3318, sy = vh / 4415, sf = Math.min(sx, sy);
function X(v) { return v * sx; }
function Y(v) { return v * sy; }
function F(v) { return Math.round(v * sf); }

var chartDom = document.getElementById('chart');
chartDom.style.width = vw + 'px';
chartDom.style.height = vh + 'px';

var serif = 'Liberation Serif';

function fmt(dec, trunc) {
  return function (v) {
    var s = Number(v).toFixed(dec);
    if (trunc) s = s.slice(-2);
    return s;
  };
}

function richSet() {
  return {
    it: { fontFamily: serif, fontSize: F(57), fontStyle: 'italic', color: '#000' },
    itb: { fontFamily: serif, fontSize: F(57), fontStyle: 'italic', fontWeight: 'bold', color: '#000' },
    n: { fontFamily: serif, fontSize: F(57), color: '#000' },
    b: { fontFamily: serif, fontSize: F(57), fontWeight: 'bold', color: '#000' },
    sup: { fontFamily: serif, fontSize: F(36), fontWeight: 'bold', color: '#000', verticalAlign: 'top' }
  };
}

var grids = [], xAxes = [], yAxes = [], series = [], graphics = [];

for (var i = 0; i < 12; i++) {
  var panelLeft = colLeft[i % 3] + shiftX[i];
  var panelTop = rowTop[Math.floor(i / 3)];

  grids.push({ left: X(panelLeft), top: Y(panelTop), width: X(plotW), height: Y(plotH),
    show: true, borderColor: '#000', borderWidth: 3 });

  xAxes.push({
    gridIndex: i, type: 'value', min: xMin[i], max: xMax[i], interval: xStep[i],
    axisLine: { show: true, onZero: false, lineStyle: { color: '#000', width: 4 } },
    axisTick: { show: true, inside: false, length: F(23), lineStyle: { color: '#000', width: 3.5 } },
    axisLabel: { margin: F(34), fontFamily: serif, fontSize: F(55), color: '#000', formatter: fmt(xDecimals[i], false) },
    splitLine: { show: false }
  });

  yAxes.push({
    gridIndex: i, type: 'value', min: yMin[i], max: yMax[i], interval: yStep[i],
    axisLine: { show: true, onZero: false, lineStyle: { color: '#000', width: 4 } },
    axisTick: { show: true, inside: false, length: F(23), lineStyle: { color: '#000', width: 3.5 } },
    axisLabel: { margin: F(48), fontFamily: serif, fontSize: F(55), color: '#000', formatter: fmt(yDecimals[i], yTruncated[i]) },
    splitLine: { show: false }
  });

  series.push({
    type: 'scatter', xAxisIndex: i, yAxisIndex: i, data: panelPoints[i],
    symbol: 'circle', symbolSize: F(27),
    itemStyle: { color: 'rgba(255,255,255,0)', borderColor: '#000', borderWidth: 3.5 },
    silent: true
  });

  // fitted line across the axis range, clipped to the plot
  series.push({
    type: 'line', xAxisIndex: i, yAxisIndex: i, symbol: 'none', clip: true, z: 5, silent: true,
    data: [[xMin[i], intercepts[i] + slopes[i] * xMin[i]], [xMax[i], intercepts[i] + slopes[i] * xMax[i]]],
    lineStyle: { color: '#ff0000', width: 3.5 }
  });

  graphics.push({ type: 'text', x: X(panelLeft + letterPos[i][0]), y: Y(panelTop + letterPos[i][1]),
    style: { text: panelLetters[i], font: 'bold ' + F(56) + 'px "Liberation Serif"', fill: '#000', align: 'center', verticalAlign: 'middle' } });
  graphics.push({ type: 'text', x: X(panelLeft + plotW / 2), y: Y(panelTop + titleDy[i]),
    style: { text: speciesNames[i], font: 'italic bold ' + F(56) + 'px "Liberation Serif"', fill: '#0000ff', align: 'center', verticalAlign: 'middle' } });

  var eq = '{it|y}{n| =  \u2212' + Math.abs(intercepts[i]) + ' + ' + slopes[i] + ' }{itb|x}';
  var ci = '{b|95% CI:}{n| (' + ciLow[i] + ', ' + ciHigh[i] + ')}';
  var r2 = '{itb|R}{sup| 2}{n|  = ' + r2Values[i] + '}';
  var lines = [[eq, 55], [ci, 135], [r2, 225]];
  for (var k = 0; k < 3; k++) {
    graphics.push({ type: 'text', x: X(panelLeft + 38), y: Y(panelTop + lines[k][1]),
      style: { text: lines[k][0], rich: richSet(), font: F(57) + 'px "Liberation Serif"', fill: '#000', align: 'left', verticalAlign: 'middle' } });
  }
}

// shared axis titles
graphics.push({ type: 'text', x: X(62), y: Y(2181), rotation: Math.PI / 2,
  style: { text: 'ln( leaf dry weight (g) )', font: 'bold ' + F(62) + 'px "Liberation Serif"', fill: '#000', align: 'center', verticalAlign: 'middle' } });
graphics.push({ type: 'text', x: X(1865), y: Y(4341),
  style: { text: 'ln( leaf area (cm\u00b2) )', font: 'bold ' + F(62) + 'px "Liberation Serif"', fill: '#000', align: 'center', verticalAlign: 'middle' } });

var myChart = echarts.init(chartDom);
myChart.setOption({
  backgroundColor: '#fff',
  animation: false,
  grid: grids,
  xAxis: xAxes,
  yAxis: yAxes,
  series: series,
  graphic: { elements: graphics }
});
</script>
</body>
</html>
